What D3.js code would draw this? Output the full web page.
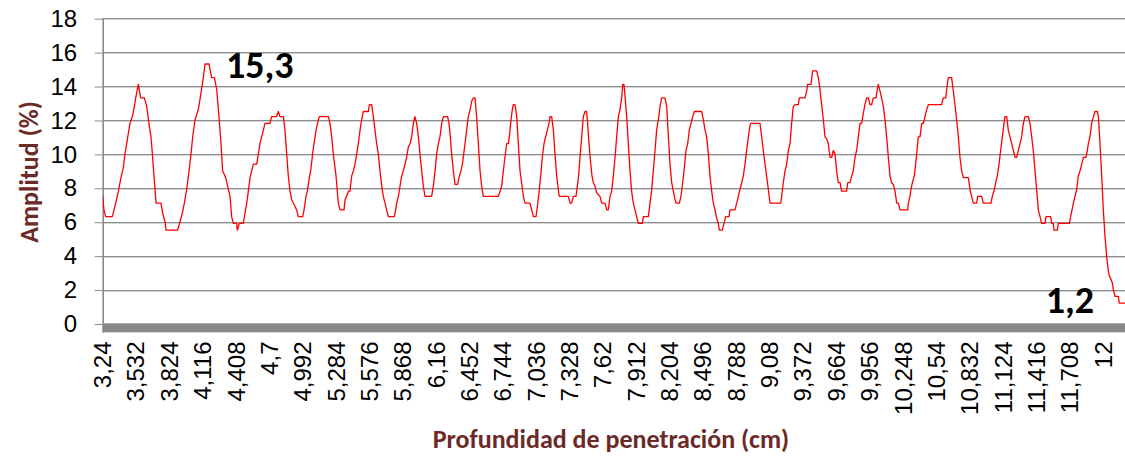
<!DOCTYPE html>
<html lang="es">
<head>
<meta charset="utf-8">
<title>Amplitud vs. profundidad de penetración</title>
<script src="https://cdn.jsdelivr.net/npm/d3@7/dist/d3.min.js"></script>
<style>
  html, body { margin: 0; padding: 0; background: #ffffff; }
  svg { display: block; font-family: Carlito, Calibri, Lato, "Open Sans", sans-serif; }
</style>
</head>
<body>
<svg id="chart" width="1125" height="459"></svg>
<script>
// Profundidad de penetración (cm) at each vertex of the recorded trace
const depth = [
  3.240, 3.251, 3.266, 3.324, 3.339, 3.354, 3.377, 3.400, 3.421, 3.435, 3.450, 3.464, 3.479, 3.500, 3.517, 3.529,
  3.552, 3.572, 3.605, 3.625, 3.645, 3.663, 3.675, 3.689, 3.707, 3.750, 3.765, 3.786, 3.794, 3.896, 3.917, 3.937,
  3.955, 3.975, 3.996, 4.013, 4.028, 4.048, 4.077, 4.101, 4.121, 4.136, 4.171, 4.194, 4.218, 4.238, 4.258, 4.276,
  4.290, 4.317,
  4.355, 4.369, 4.384, 4.413, 4.419, 4.436, 4.471, 4.486, 4.501, 4.515, 4.530, 4.544, 4.559, 4.588, 4.603, 4.617,
  4.632, 4.647, 4.661, 4.705, 4.719, 4.763, 4.778, 4.792, 4.822, 4.836, 4.851, 4.865, 4.880, 4.895, 4.909, 4.924,
  4.938, 4.953, 4.991, 5.003, 5.020, 5.032, 5.049, 5.061, 5.078, 5.090, 5.108, 5.128, 5.137, 5.216, 5.230, 5.245,
  5.259, 5.283, 5.303, 5.318, 5.353, 5.362, 5.376, 5.391, 5.405, 5.420, 5.435, 5.449, 5.464, 5.478, 5.493, 5.507,
  5.522,
  5.537, 5.566, 5.575, 5.595, 5.610, 5.624, 5.639, 5.653, 5.668, 5.683, 5.697, 5.712, 5.726, 5.741, 5.793, 5.805,
  5.814, 5.829, 5.843, 5.858, 5.872, 5.887, 5.901, 5.916, 5.931, 5.945, 5.960, 5.974, 5.989, 6.004, 6.018, 6.033,
  6.047, 6.062, 6.120, 6.135, 6.150, 6.164, 6.179, 6.193, 6.208, 6.223, 6.260, 6.272, 6.284, 6.295, 6.310, 6.325,
  6.348, 6.363, 6.377, 6.389, 6.401, 6.412, 6.427, 6.441, 6.456, 6.471, 6.485, 6.500, 6.514, 6.529, 6.544, 6.558,
  6.573, 6.704,
  6.719, 6.733, 6.748, 6.762, 6.777, 6.792, 6.800, 6.812, 6.824, 6.835, 6.850, 6.865, 6.879, 6.894, 6.908, 6.923,
  6.938, 6.981, 6.996, 7.011, 7.034, 7.046, 7.060, 7.075, 7.089, 7.104, 7.118, 7.133, 7.148, 7.156, 7.171, 7.186,
  7.200, 7.215, 7.229, 7.238, 7.317, 7.332, 7.346, 7.361, 7.384, 7.396, 7.407, 7.419, 7.434, 7.448, 7.463, 7.477,
  7.486, 7.498, 7.513, 7.524, 7.536, 7.550, 7.565, 7.594, 7.609, 7.638, 7.653, 7.667, 7.682, 7.696, 7.711, 7.726,
  7.740, 7.755, 7.769, 7.784, 7.793, 7.804, 7.813, 7.828, 7.842, 7.857, 7.871, 7.886,
  7.901, 7.915, 7.930, 7.965, 7.974, 8.017, 8.032, 8.047, 8.061, 8.076, 8.090, 8.105, 8.120, 8.134, 8.163, 8.178,
  8.193, 8.207, 8.222, 8.236, 8.251, 8.260, 8.289, 8.303, 8.318, 8.333, 8.347, 8.362, 8.376, 8.391, 8.406, 8.420,
  8.484, 8.499, 8.514, 8.528, 8.543, 8.557, 8.572, 8.587, 8.601, 8.616, 8.630, 8.639, 8.665, 8.680, 8.695, 8.724,
  8.732, 8.776, 8.791, 8.805, 8.820, 8.835, 8.849, 8.864, 8.878, 8.893, 8.908, 8.916, 8.995, 9.010, 9.024, 9.039,
  9.053, 9.068,
  9.083, 9.176, 9.185, 9.199, 9.214, 9.229, 9.243, 9.258, 9.272, 9.287, 9.302, 9.331, 9.339, 9.389, 9.404, 9.412,
  9.442, 9.456, 9.491, 9.506, 9.520, 9.535, 9.550, 9.564, 9.579, 9.593, 9.608, 9.623, 9.637, 9.652, 9.666, 9.681,
  9.696, 9.710, 9.754, 9.763, 9.783, 9.798, 9.812, 9.827, 9.841, 9.856, 9.871, 9.885, 9.900, 9.914, 9.929, 9.944,
  9.958, 9.973, 9.987, 10.011, 10.022, 10.031, 10.046, 10.060, 10.075, 10.090, 10.104, 10.119, 10.133, 10.148, 10.163, 10.177,
  10.192, 10.206, 10.221, 10.250,
  10.265, 10.288, 10.294, 10.308, 10.317, 10.329, 10.346, 10.358, 10.370, 10.381, 10.396, 10.411, 10.425, 10.440, 10.454, 10.469,
  10.586, 10.600, 10.621, 10.635, 10.644, 10.673, 10.688, 10.702, 10.717, 10.732, 10.746, 10.761, 10.775, 10.819, 10.834, 10.848,
  10.863, 10.892, 10.901, 10.936, 10.950, 11.018, 11.029, 11.047, 11.059, 11.073, 11.088, 11.102, 11.117, 11.131, 11.140, 11.155,
  11.169, 11.184, 11.199, 11.213, 11.228, 11.242, 11.257, 11.272, 11.286, 11.301, 11.315, 11.345, 11.359, 11.374, 11.388, 11.403,
  11.417, 11.432, 11.447, 11.461,
  11.490, 11.499, 11.540, 11.549, 11.563, 11.569, 11.598, 11.607, 11.704, 11.715, 11.727, 11.739, 11.753, 11.768, 11.782, 11.797,
  11.812, 11.826, 11.849, 11.861, 11.870, 11.884, 11.899, 11.914, 11.928, 11.949, 11.958, 11.972, 11.987, 12.001, 12.016, 12.031,
  12.045, 12.054, 12.068, 12.080, 12.089, 12.103, 12.132, 12.141, 12.200
];

// Amplitud (%) at the same vertices
const amplitude = [
  7.5, 6.7, 6.3, 6.3, 6.7, 7.1, 7.8, 8.6, 9.2, 10.0, 10.6, 11.2, 11.8, 12.2, 12.8, 13.3,
  14.1, 13.3, 13.3, 12.8, 11.8, 11.0, 10.0, 8.7, 7.1, 7.1, 6.5, 6.0, 5.5, 5.5, 6.0, 6.5,
  7.1, 7.9, 9.0, 10.0, 11.0, 12.0, 12.6, 13.6, 14.5, 15.3, 15.3, 14.5, 14.5, 13.8, 12.2, 10.6,
  9.0, 8.6,
  7.5, 6.3, 5.9, 5.9, 5.5, 5.9, 5.9, 6.5, 7.1, 7.8, 8.6, 9.0, 9.4, 9.4, 10.0, 10.6,
  11.0, 11.4, 11.8, 11.8, 12.2, 12.2, 12.5, 12.2, 12.2, 11.4, 10.0, 8.7, 7.8, 7.3, 7.1, 6.9,
  6.7, 6.3, 6.3, 6.7, 7.5, 7.8, 8.6, 9.0, 10.0, 10.6, 11.4, 12.0, 12.2, 12.2, 11.8, 11.0,
  10.0, 8.7, 7.1, 6.7, 6.7, 7.3, 7.5, 7.8, 7.8, 8.7, 9.0, 9.4, 10.0, 10.6, 11.4, 12.0,
  12.5,
  12.5, 12.5, 12.9, 12.9, 12.2, 11.4, 10.6, 10.0, 9.0, 8.1, 7.5, 7.1, 6.7, 6.3, 6.3, 6.7,
  7.1, 7.5, 8.1, 8.7, 9.0, 9.4, 9.8, 10.4, 10.6, 11.0, 11.8, 12.2, 11.8, 11.0, 10.0, 9.0,
  8.1, 7.5, 7.5, 8.1, 9.0, 10.0, 10.6, 11.0, 11.8, 12.2, 12.2, 11.8, 11.0, 10.0, 9.0, 8.2,
  8.2, 8.7, 9.0, 9.4, 10.0, 10.6, 11.4, 12.2, 12.6, 13.1, 13.3, 13.3, 12.2, 10.6, 9.0, 8.1,
  7.5, 7.5,
  7.8, 8.1, 9.0, 9.8, 10.6, 10.6, 11.0, 11.8, 12.5, 12.9, 12.9, 12.2, 10.6, 9.0, 8.3, 7.5,
  7.1, 7.1, 6.7, 6.3, 6.3, 6.9, 7.7, 8.7, 9.8, 10.6, 11.0, 11.4, 11.8, 12.2, 12.2, 11.4,
  10.0, 8.7, 7.9, 7.5, 7.5, 7.1, 7.1, 7.5, 7.5, 8.1, 8.7, 9.8, 11.0, 12.2, 12.5, 12.5,
  11.8, 10.6, 9.4, 8.7, 8.3, 8.1, 7.7, 7.5, 7.1, 7.1, 6.7, 6.7, 7.5, 7.8, 8.7, 9.8,
  11.0, 12.2, 12.6, 13.3, 14.1, 14.1, 13.4, 12.2, 10.6, 9.0, 7.8, 7.1,
  6.7, 6.3, 5.9, 5.9, 6.3, 6.3, 7.1, 7.9, 9.0, 10.2, 11.4, 12.0, 12.8, 13.3, 13.3, 12.8,
  11.0, 9.4, 8.3, 7.8, 7.3, 7.1, 7.1, 7.5, 8.3, 9.2, 10.2, 10.6, 11.4, 11.8, 12.2, 12.5,
  12.5, 12.0, 11.4, 11.0, 10.0, 8.7, 7.8, 7.1, 6.7, 6.2, 5.9, 5.5, 5.5, 5.9, 6.3, 6.3,
  6.7, 6.7, 7.1, 7.5, 7.9, 8.3, 8.7, 9.4, 10.2, 11.0, 11.7, 11.8, 11.8, 11.0, 10.2, 9.4,
  8.7, 7.9,
  7.1, 7.1, 7.5, 8.3, 9.0, 9.4, 10.2, 10.6, 11.8, 12.8, 12.9, 12.9, 13.3, 13.3, 13.7, 14.1,
  14.1, 14.9, 14.9, 14.5, 13.8, 12.9, 12.0, 11.0, 10.9, 10.6, 9.8, 9.8, 10.2, 10.0, 9.0, 8.3,
  8.3, 7.8, 7.8, 8.3, 8.3, 8.7, 9.0, 9.8, 10.2, 11.0, 11.8, 11.8, 12.4, 12.9, 13.3, 13.3,
  12.9, 12.9, 13.3, 13.3, 13.8, 14.1, 13.7, 13.3, 12.8, 12.0, 11.0, 9.8, 8.7, 8.3, 8.2, 7.8,
  7.1, 7.1, 6.7, 6.7,
  6.7, 6.7, 7.1, 7.5, 7.9, 8.3, 8.7, 9.4, 10.2, 11.0, 11.0, 11.8, 11.8, 12.2, 12.6, 12.9,
  12.9, 13.3, 13.3, 14.1, 14.5, 14.5, 13.7, 12.9, 12.0, 11.0, 9.8, 9.0, 8.6, 8.6, 7.9, 7.5,
  7.1, 7.1, 7.5, 7.5, 7.1, 7.1, 7.5, 7.9, 8.3, 8.7, 9.4, 10.2, 11.0, 11.8, 12.2, 12.2,
  11.4, 11.0, 10.6, 10.2, 9.8, 9.8, 10.2, 10.6, 11.0, 11.8, 12.2, 12.2, 11.8, 11.0, 10.2, 9.0,
  7.9, 6.7, 6.3, 5.9,
  5.9, 6.3, 6.3, 5.9, 5.9, 5.5, 5.5, 5.9, 5.9, 6.3, 6.7, 7.1, 7.5, 7.9, 8.7, 9.0,
  9.4, 9.8, 9.8, 10.2, 10.6, 11.0, 11.8, 12.2, 12.5, 12.5, 12.2, 10.6, 8.7, 6.7, 5.1, 3.9,
  3.1, 2.8, 2.6, 2.4, 2.0, 1.6, 1.6, 1.2, 1.2
];

// Category labels shown on the horizontal axis
const xTickValues = [3.24, 3.532, 3.824, 4.116, 4.408, 4.7, 4.992, 5.284, 5.576, 5.868, 6.16,
  6.452, 6.744, 7.036, 7.328, 7.62, 7.912, 8.204, 8.496, 8.788, 9.08, 9.372, 9.664, 9.956,
  10.248, 10.54, 10.832, 11.124, 11.416, 11.708, 12];
const yTickValues = [0, 2, 4, 6, 8, 10, 12, 14, 16, 18];

const xTitle = "Profundidad de penetración (cm)";
const yTitle = "Amplitud (%)";

const titleColor = "#6b2a27";
const gridDark = "#8c8c8c";
const gridLight = "#d6d6d6";
const axisGray = "#898989";

const svg = d3.select("#chart");
const W = 1125;

const plotLeft = 102.7;
const x = d3.scaleLinear().domain([3.24, 12]).range([plotLeft, plotLeft + 30 * 33.35]);
const y = d3.scaleLinear().domain([0, 18]).range([323.5, 18.2]);

const points = depth.map((d, i) => ({ d, a: amplitude[i] }));
const fmt = v => d3.format(".1f")(v).replace(".", ",");
const fmtTick = v => String(v).replace(".", ",");

// Horizontal gridlines (dark line with a lighter line underneath)
const grid = svg.append("g");
yTickValues.filter(v => v > 0).forEach(v => {
  const yy = Math.round(y(v)) + 0.5;
  grid.append("line").attr("x1", plotLeft).attr("x2", W).attr("y1", yy).attr("y2", yy)
    .attr("stroke", gridDark).attr("stroke-width", 1);
  grid.append("line").attr("x1", plotLeft).attr("x2", W).attr("y1", yy + 1).attr("y2", yy + 1)
    .attr("stroke", gridLight).attr("stroke-width", 1);
});

// Vertical axis with tick labels
const yAxis = d3.axisLeft(y).tickValues(yTickValues).tickSize(8).tickPadding(17.5).tickFormat(d3.format("d"));
const gy = svg.append("g").attr("transform", `translate(${plotLeft},0)`).call(yAxis);
gy.select(".domain").attr("stroke", axisGray).attr("stroke-width", 1.6)
  .attr("d", `M0.5,${y(18)}V${y(0) + 9}`);
gy.selectAll(".tick line").attr("stroke", axisGray).attr("stroke-width", 1)
  .attr("transform", "translate(0,0.5)");
gy.selectAll(".tick text").attr("fill", "#000").style("font-size", "24px")
  .attr("dy", "0.34em");

// Floor band under the plot
svg.append("rect")
  .attr("x", plotLeft).attr("y", y(0) - 0.2)
  .attr("width", W - plotLeft).attr("height", 9)
  .attr("fill", axisGray);

// Horizontal axis labels (rotated)
const xAxis = d3.axisBottom(x).tickValues(xTickValues).tickSize(0).tickFormat(fmtTick);
const gx = svg.append("g").attr("transform", `translate(0,${y(0) + 9})`).call(xAxis);
gx.select(".domain").remove();
gx.selectAll(".tick text")
  .attr("fill", "#000")
  .style("font-size", "24px")
  .attr("transform", "rotate(-90)")
  .attr("text-anchor", "end")
  .attr("x", -9)
  .attr("y", 0)
  .attr("dy", "0.33em");

// Amplitude trace
const clip = svg.append("clipPath").attr("id", "plotClip");
clip.append("rect").attr("x", plotLeft).attr("y", 0).attr("width", W - plotLeft).attr("height", y(0));

svg.append("path")
  .datum(points)
  .attr("clip-path", "url(#plotClip)")
  .attr("fill", "none")
  .attr("stroke", "#ff0000")
  .attr("stroke-width", 1.3)
  .attr("stroke-linejoin", "round")
  .attr("d", d3.line().x(p => x(p.d)).y(p => y(p.a)));

// Data labels: maximum value and final value
const maxA = d3.max(amplitude);
const peakIdx = amplitude.lastIndexOf(maxA);
svg.append("text")
  .attr("x", x(depth[peakIdx]) + 17)
  .attr("y", y(maxA))
  .attr("dy", "0.37em")
  .attr("font-weight", "bold")
  .style("font-size", "38px")
  .attr("fill", "#000")
  .text(fmt(maxA));

const lastIdx = amplitude.length - 1;
svg.append("text")
  .attr("x", x(depth[lastIdx]) - 32)
  .attr("y", y(amplitude[lastIdx]))
  .attr("dy", "0.26em")
  .attr("text-anchor", "end")
  .attr("font-weight", "bold")
  .style("font-size", "38px")
  .attr("fill", "#000")
  .text(fmt(amplitude[lastIdx]));

// Axis titles
svg.append("text")
  .attr("transform", `translate(29,172) rotate(-90)`)
  .attr("text-anchor", "middle")
  .attr("dy", "0.34em")
  .attr("font-weight", "bold")
  .style("font-size", "26px")
  .attr("fill", titleColor)
  .text(yTitle);

svg.append("text")
  .attr("x", 611)
  .attr("y", 448)
  .attr("text-anchor", "middle")
  .attr("font-weight", "bold")
  .style("font-size", "26px")
  .attr("fill", titleColor)
  .text(xTitle);
</script>
</body>
</html>
